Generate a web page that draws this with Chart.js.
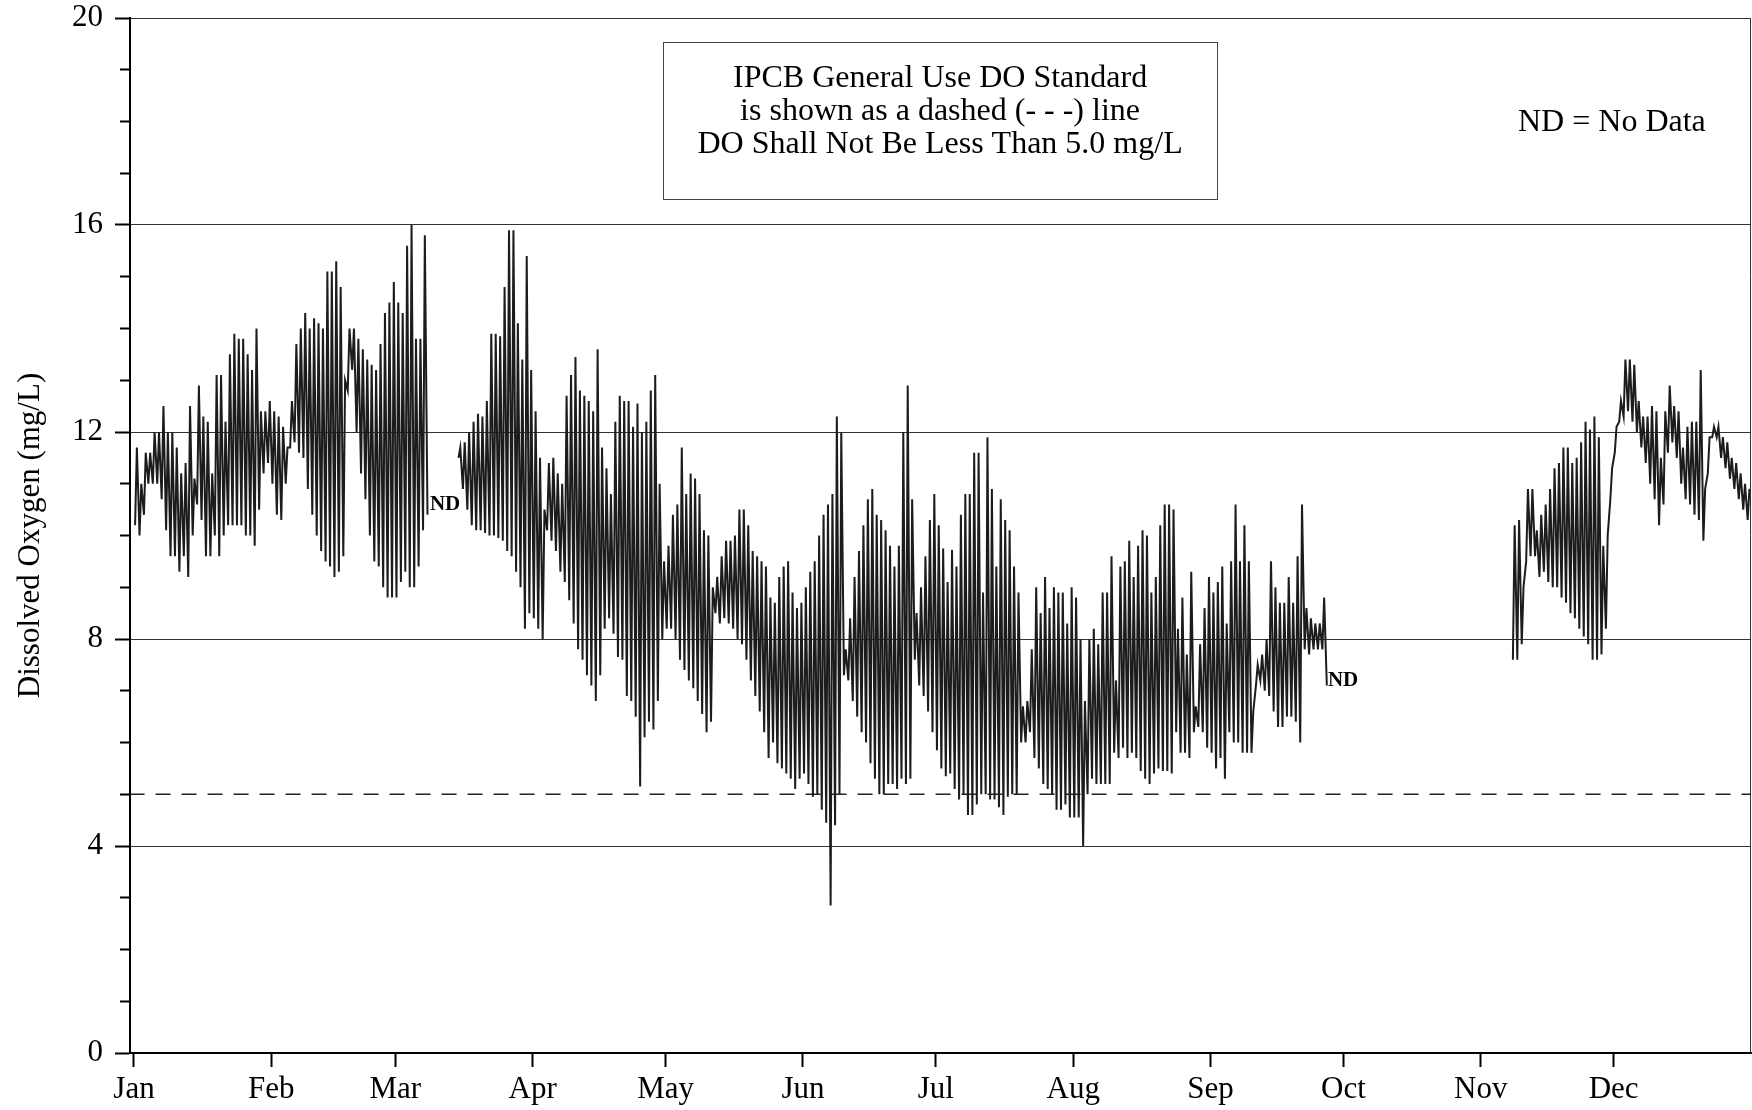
<!DOCTYPE html>
<html>
<head>
<meta charset="utf-8">
<script src="https://cdn.jsdelivr.net/npm/chart.js@4.4.0/dist/chart.umd.min.js"></script>
<style>
  html, body { margin: 0; padding: 0; background: #fff; }
</style>
</head>
<body>
<canvas id="graficoOD" width="1752" height="1110"></canvas>
<script>
// eixo x: dias do ano (0 = 1 de janeiro)
const meses = ["Jan", "Feb", "Mar", "Apr", "May", "Jun", "Jul", "Aug", "Sep", "Oct", "Nov", "Dec"];
const inicioMes = [0, 31, 59, 90, 120, 151, 181, 212, 243, 273, 304, 334];
const ticksY = [0, 4, 8, 12, 16, 20];
const padraoOD = 5.0;

// máximo e mínimo diário de OD (mg/L); null = sem dados
const janMax = [11.7, 11.0, 11.6, 11.6, 12.0, 12.0, 12.5, 12.0, 12.0, 11.7, 11.2, 11.4, 12.5, 11.1, 12.9, 12.3, 12.2, 11.2, 13.1, 13.1, 12.2, 13.5, 13.9, 13.8, 13.8, 13.5, 13.2, 14.0, 12.4, 12.4, 12.6];
const janMin = [10.2, 10.0, 10.4, 11.0, 11.0, 11.0, 10.7, 10.1, 9.6, 9.6, 9.3, 9.6, 9.2, 10.0, 10.6, 10.3, 9.6, 9.6, 10.0, 9.6, 10.0, 10.2, 10.2, 10.2, 10.2, 10.0, 10.0, 9.8, 10.5, 11.2, 11.4];
const febMax = [12.4, 12.3, 12.1, 11.7, 12.6, 13.7, 14.0, 14.3, 14.0, 14.2, 14.1, 14.0, 15.1, 15.1, 15.3, 14.8, 13.0, 14.0, 14.0, 13.8, 13.6, 13.4, 13.3, 13.2, 13.7, 14.3, 14.5, 14.9];
const febMin = [11.0, 10.4, 10.3, 11.0, 11.7, 11.8, 11.6, 11.5, 10.9, 10.4, 10.0, 9.7, 9.5, 9.4, 9.2, 9.3, 9.6, 12.8, 13.2, 12.0, 11.2, 10.7, 10.0, 9.5, 9.4, 9.0, 8.8, 8.8];
const marMax = [14.5, 14.3, 15.6, 16.0, 13.8, 13.8, 15.8, null, null, null, null, null, null, null, 11.7, 11.8, 12.0, 12.2, 12.35, 12.3, 12.6, 13.9, 13.9, 13.85, 14.8, 15.9, 15.9, 14.1, 13.4, 15.4, 13.2];
const marMin = [8.8, 9.1, 9.3, 9.0, 9.0, 9.4, 10.1, 10.4, null, null, null, null, null, null, 11.5, 10.9, 10.5, 10.2, 10.1, 10.1, 10.05, 10.0, 10.0, 9.95, 9.9, 9.7, 9.6, 9.3, 9.0, 8.2, 8.5];
const aprMax = [12.4, 11.5, 10.5, 11.4, 11.5, 11.2, 11.0, 12.7, 13.1, 13.45, 12.8, 12.7, 12.6, 12.4, 13.6, 11.7, 11.3, 10.8, 12.2, 12.7, 12.6, 12.6, 12.1, 12.55, 12.0, 12.2, 12.8, 13.1, 11.0, 9.5];
const aprMin = [8.4, 8.2, 8.0, 10.1, 9.9, 9.7, 9.3, 9.1, 8.75, 8.3, 7.8, 7.6, 7.3, 7.1, 6.8, 7.3, 8.2, 8.4, 8.1, 7.65, 7.6, 6.9, 6.8, 6.5, 5.15, 6.1, 6.4, 6.25, 6.8, 8.0];
const mayMax = [9.8, 10.4, 10.6, 11.7, 10.8, 11.2, 11.1, 10.8, 10.1, 10.0, 9.0, 9.2, 9.6, 9.9, 9.9, 10.0, 10.5, 10.5, 10.2, 9.7, 9.6, 9.5, 9.4, 8.8, 8.7, 9.2, 9.4, 9.5, 8.9, 8.6, 8.7];
const mayMin = [8.2, 8.2, 8.0, 7.6, 7.4, 7.2, 7.05, 6.8, 6.55, 6.2, 6.4, 8.5, 8.3, 8.4, 8.3, 8.2, 8.0, 7.9, 7.6, 7.2, 6.9, 6.6, 6.2, 5.7, 6.0, 5.6, 5.5, 5.4, 5.3, 5.1, 5.3];
const junMax = [9.0, 9.3, 9.5, 10.0, 10.4, 10.6, 10.8, 12.3, 12.0, 7.8, 8.4, 9.2, 9.7, 10.2, 10.7, 10.9, 10.4, 10.3, 10.1, 9.8, 9.4, 9.8, 12.0, 12.9, 10.7, 8.5, 9.0, 9.6, 10.3, 10.8];
const junMin = [5.4, 5.2, 4.95, 5.0, 4.7, 4.45, 2.85, 4.4, 5.0, 7.3, 7.2, 6.8, 6.5, 6.2, 6.0, 5.6, 5.3, 5.0, 5.0, 5.2, 5.2, 5.1, 5.3, 5.2, 5.3, 7.6, 7.1, 6.9, 6.6, 6.2];
const julMax = [10.2, 9.75, 9.1, 9.72, 9.4, 10.4, 10.8, 10.8, 11.6, 11.6, 8.9, 11.9, 10.9, 9.4, 10.7, 10.3, 10.1, 9.4, 8.9, 6.7, 6.8, 7.8, 9.0, 8.5, 9.2, 8.6, 9.0, 8.9, 8.9, 8.3, 9.0];
const julMin = [5.85, 5.5, 5.35, 5.4, 5.1, 4.9, 5.0, 4.6, 4.6, 4.8, 5.0, 5.0, 4.9, 4.9, 4.75, 4.6, 4.95, 5.0, 5.0, 6.0, 6.0, 6.2, 5.7, 5.5, 5.2, 5.1, 5.0, 4.7, 4.7, 4.8, 4.55];
const augMax = [8.8, 8.0, 6.8, 8.0, 8.2, 7.9, 8.9, 8.9, 9.6, 7.2, 9.4, 9.5, 9.9, 9.2, 9.8, 10.1, 10.0, 8.9, 9.2, 10.2, 10.6, 10.6, 10.5, 8.2, 8.8, 7.7, 9.3, 6.7, 7.9, 8.6, 9.2];
const augMin = [4.55, 4.55, 4.0, 5.0, 5.3, 5.2, 5.2, 5.2, 5.2, 5.8, 5.7, 5.9, 5.7, 5.8, 5.7, 5.45, 5.3, 5.2, 5.4, 5.5, 5.45, 5.45, 5.4, 6.2, 5.8, 5.8, 5.7, 6.2, 6.3, 6.2, 5.9];
const sepMax = [8.9, 9.1, 9.4, 8.3, 9.5, 10.6, 9.5, 10.2, 9.5, 6.6, 7.5, 7.7, 8.0, 9.5, 9.0, 8.7, 8.7, 9.2, 8.7, 9.6, 10.6, 8.6, 8.4, 8.3, 8.3, 8.8, null, null, null, null];
const sepMin = [5.8, 5.5, 5.7, 5.3, 6.2, 6.0, 6.0, 5.8, 5.8, 5.8, 7.1, 7.2, 7.0, 6.9, 6.6, 6.3, 6.3, 6.5, 6.5, 6.4, 6.0, 7.8, 7.7, 7.8, 7.8, 7.8, 7.1, null, null, null];
const octMax = new Array(31).fill(null); // ND
const octMin = new Array(31).fill(null); // ND
const novMax = [null, null, null, null, null, null, null, 10.2, 10.3, 9.0, 10.9, 10.9, 10.1, 10.4, 10.6, 10.9, 11.3, 11.4, 11.7, 11.7, 11.4, 11.5, 11.8, 12.2, 12.05, 12.3, 11.9, 9.8, 10.0, 11.3];
const novMin = [null, null, null, null, null, null, null, 7.6, 7.6, 7.9, 9.5, 9.6, 9.6, 9.2, 9.3, 9.1, 9.0, 9.0, 8.8, 8.7, 8.5, 8.4, 8.2, 8.05, 7.9, 7.6, 7.6, 7.7, 8.2, 10.7];
const decMax = [12.1, 12.6, 13.4, 13.4, 13.3, 12.6, 12.3, 12.3, 12.5, 12.4, 11.5, 12.4, 12.9, 12.5, 12.4, 11.7, 12.1, 12.2, 12.2, 13.2, 10.9, 11.9, 12.1, 12.1, 11.9, 11.8, 11.5, 11.4, 11.2, 11.0, 10.9];
const decMin = [11.6, 12.2, 12.3, 12.4, 12.2, 12.0, 11.7, 11.4, 11.0, 10.7, 10.2, 10.6, 11.6, 11.8, 11.5, 11.0, 10.7, 10.6, 10.4, 10.3, 9.9, 11.2, 11.9, 11.9, 11.5, 11.3, 11.1, 10.9, 10.7, 10.5, 10.3];

// textos
const notaLinhas = ["IPCB General Use DO Standard", "is shown as a dashed (- - -) line", "DO Shall Not Be Less Than 5.0 mg/L"];
const notaND = "ND = No Data";
const marcasND = [{ dia: 66.8, valor: 10.6 }, { dia: 269.5, valor: 7.2 }];

const maximos = [].concat(janMax, febMax, marMax, aprMax, mayMax, junMax, julMax, augMax, sepMax, octMax, novMax, decMax);
const minimos = [].concat(janMin, febMin, marMin, aprMin, mayMin, junMin, julMin, augMin, sepMin, octMin, novMin, decMin);

// série contínua: mínimo de madrugada, máximo à tarde
const pontos = [];
minimos.forEach((lo, d) => {
  const hi = maximos[d];
  if (lo === null && hi === null) { pontos.push({ x: d + 0.5, y: null }); return; }
  if (lo !== null) pontos.push({ x: d + 0.25, y: lo });
  if (hi !== null) pontos.push({ x: d + 0.65, y: hi });
});

const fonte = "'Liberation Serif', 'Times New Roman', serif";

const anotacoes = {
  id: "anotacoes",
  afterDraw(chart) {
    const { ctx, chartArea, scales: { x, y } } = chart;
    ctx.save();
    // borda direita
    ctx.strokeStyle = "#333";
    ctx.lineWidth = 1;
    ctx.beginPath();
    ctx.moveTo(chartArea.right - 0.5, chartArea.top);
    ctx.lineTo(chartArea.right - 0.5, chartArea.bottom);
    ctx.stroke();

    // caixa do padrão
    const bx1 = x.getPixelForValue(119.4), bx2 = x.getPixelForValue(244.5);
    const by1 = y.getPixelForValue(19.54), by2 = y.getPixelForValue(16.5);
    ctx.strokeStyle = "#444";
    ctx.strokeRect(Math.round(bx1) + 0.5, Math.round(by1) + 0.5, Math.round(bx2 - bx1), Math.round(by2 - by1));
    ctx.fillStyle = "#000";
    ctx.font = "32px " + fonte;
    ctx.textAlign = "center";
    ctx.textBaseline = "middle";
    const cx = (bx1 + bx2) / 2;
    notaLinhas.forEach((t, i) => ctx.fillText(t, cx, by1 + 37 + i * 33));

    ctx.fillText(notaND, x.getPixelForValue(333.6), y.getPixelForValue(17.97));

    ctx.font = "bold 21px " + fonte;
    ctx.textAlign = "left";
    marcasND.forEach(m => ctx.fillText("ND", x.getPixelForValue(m.dia), y.getPixelForValue(m.valor)));
    ctx.restore();
  }
};

const ctx = document.getElementById("graficoOD").getContext("2d");
new Chart(ctx, {
  type: "line",
  data: {
    datasets: [
      {
        label: "DO",
        data: pontos,
        borderColor: "#1c1c1c",
        borderWidth: 2.0,
        pointRadius: 0,
        spanGaps: false,
        tension: 0
      },
      {
        label: "Padrão",
        data: [{ x: -1, y: padraoOD }, { x: 365, y: padraoOD }],
        borderColor: "#222",
        borderWidth: 1.5,
        borderDash: [15, 11],
        pointRadius: 0
      }
    ]
  },
  options: {
    responsive: false,
    animation: false,
    devicePixelRatio: 1,
    layout: { padding: { left: 0, top: 18, right: 1, bottom: 0 } },
    plugins: { legend: { display: false }, tooltip: { enabled: false } },
    scales: {
      x: {
        type: "linear",
        min: -0.9,
        max: 365,
        afterBuildTicks: s => { s.ticks = inicioMes.map(v => ({ value: v })); },
        afterFit: s => { s.height = 57; s.paddingLeft = 0; s.paddingRight = 0; },
        ticks: {
          autoSkip: false,
          maxRotation: 0,
          padding: 4,
          color: "#000",
          font: { family: fonte, size: 31 },
          callback: v => meses[inicioMes.indexOf(v)]
        },
        grid: { drawOnChartArea: false, drawTicks: true, tickLength: 14, tickWidth: 2, tickColor: "#000" },
        border: { color: "#000", width: 2 }
      },
      y: {
        min: 0,
        max: 20,
        afterBuildTicks: s => { s.ticks = Array.from({ length: 21 }, (_, i) => ({ value: i })); },
        afterFit: s => { s.width = 130; s.paddingTop = 0; s.paddingBottom = 0; },
        ticks: {
          autoSkip: false,
          padding: 12,
          color: "#000",
          font: { family: fonte, size: 31 },
          callback: v => (ticksY.includes(v) ? v : "")
        },
        grid: {
          color: c => (ticksY.includes(c.tick.value) ? "#333" : "rgba(0,0,0,0)"),
          lineWidth: 1,
          tickLength: 15,
          tickWidth: 2,
          tickColor: "#000",
          tickBorderDash: c => (ticksY.includes(c.tick.value) ? [] : [0, 5, 10, 0])
        },
        border: { color: "#000", width: 2 },
        title: {
          display: true,
          text: "Dissolved Oxygen (mg/L)",
          color: "#000",
          font: { family: fonte, size: 31 },
          padding: { top: 12, bottom: 0 }
        }
      }
    }
  },
  plugins: [anotacoes]
});
</script>
</body>
</html>
